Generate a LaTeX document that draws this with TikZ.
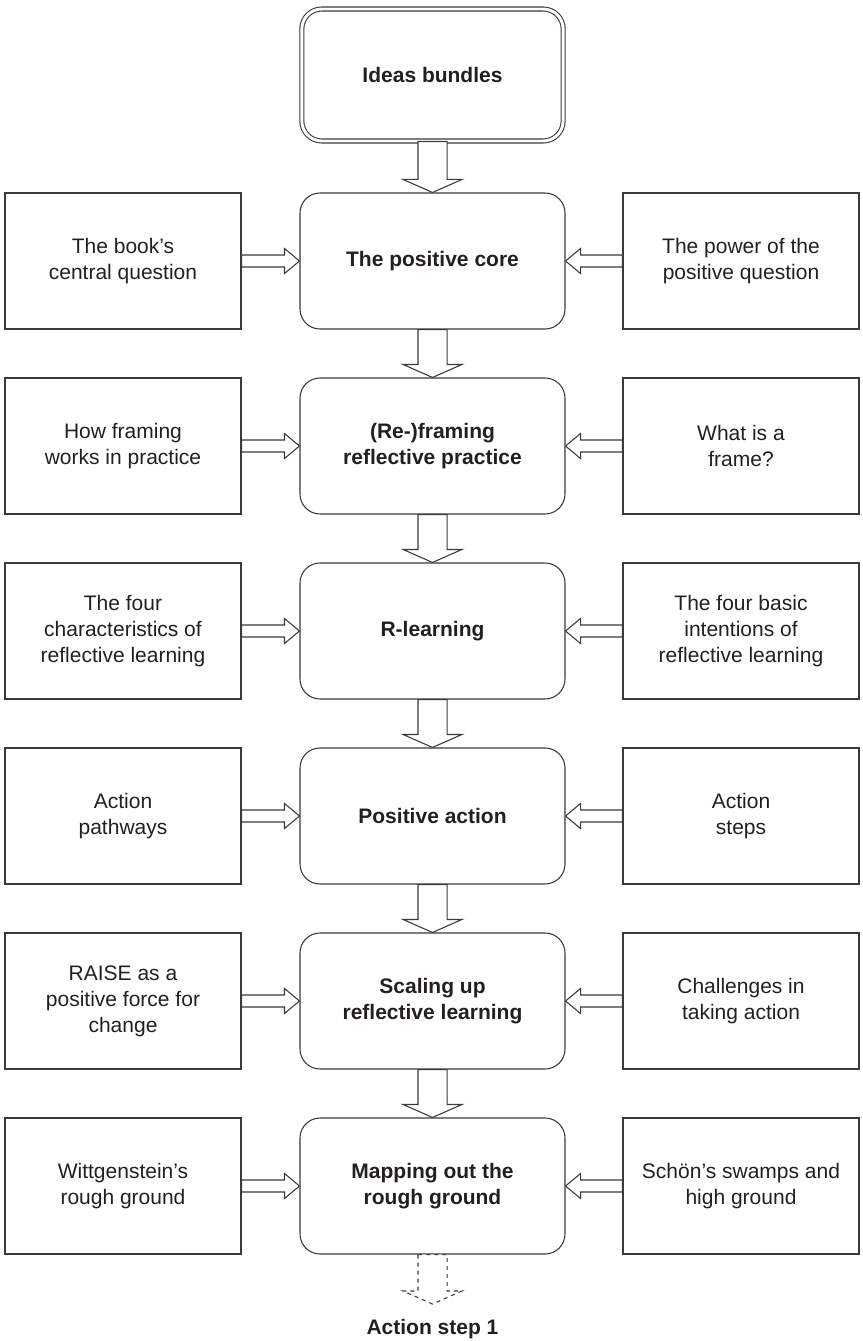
\documentclass[tikz,border=0pt]{standalone}
\usepackage{fontspec}
\setmainfont{Liberation Sans}
\usetikzlibrary{calc}
\definecolor{ink}{HTML}{231F20}
\definecolor{edge}{HTML}{3A3A3A}
\begin{document}
\begin{tikzpicture}[x=0.75pt,y=-0.75pt,
  every node/.style={font=\fontsize{15.75pt}{19.5pt}\selectfont, text=ink, align=center},
  mainbox/.style={draw=edge, line width=0.8pt, rounded corners=15pt,
    minimum width=198.75pt, minimum height=102pt, inner sep=2pt, font=\fontsize{15.75pt}{19.5pt}\selectfont\bfseries},
  topbox/.style={mainbox, double=white, double distance=2.2pt, minimum width=196pt, minimum height=99pt},
  sidebox/.style={draw=edge, line width=0.8pt, minimum width=177pt, minimum height=102pt, inner sep=2pt},
  blockarrow/.style={draw=edge, line width=0.8pt, fill=white, line join=miter},
  % wide downward arrow from the start point to the target point
  downbar/.style={blockarrow, to path={
    let \p1=(\tikztostart), \p2=(\tikztotarget) in
    (\x1-10.9pt,\y1) -- (\x1-10.9pt,\y2+9.75pt) -- (\x1-22.1pt,\y2+9.75pt) -- (\x1,\y2)
    -- (\x1+22.1pt,\y2+9.75pt) -- (\x1+10.9pt,\y2+9.75pt) -- (\x1+10.9pt,\y1) -- cycle}},
  % narrow arrow pointing right
  rightbar/.style={blockarrow, to path={
    let \p1=(\tikztostart), \p2=(\tikztotarget) in
    (\x1,\y1+4.5pt) -- (\x2-11.25pt,\y1+4.5pt) -- (\x2-11.25pt,\y1+9.4pt) -- (\x2,\y1)
    -- (\x2-11.25pt,\y1-9.4pt) -- (\x2-11.25pt,\y1-4.5pt) -- (\x1,\y1-4.5pt) -- cycle}},
  % narrow arrow pointing left
  leftbar/.style={blockarrow, to path={
    let \p1=(\tikztostart), \p2=(\tikztotarget) in
    (\x1,\y1+4.5pt) -- (\x2+11.25pt,\y1+4.5pt) -- (\x2+11.25pt,\y1+9.4pt) -- (\x2,\y1)
    -- (\x2+11.25pt,\y1-9.4pt) -- (\x2+11.25pt,\y1-4.5pt) -- (\x1,\y1-4.5pt) -- cycle}}
]
\useasboundingbox (0,0) rectangle (863,1341);

% central column
\node[topbox]  (ideas) at (432.5,75)   {Ideas bundles};
\node[mainbox] (m1)    at (432.5,261)  {The positive core};
\node[mainbox] (m2)    at (432.5,446)  {(Re-)framing\\reflective practice};
\node[mainbox] (m3)    at (432.5,631)  {R-learning};
\node[mainbox] (m4)    at (432.5,816)  {Positive action};
\node[mainbox] (m5)    at (432.5,1001) {Scaling up\\reflective learning};
\node[mainbox] (m6)    at (432.5,1186) {Mapping out the\\rough ground};

% left column
\node[sidebox] (l1) at (123,261)  {The book’s\\central question};
\node[sidebox] (l2) at (123,446)  {How framing\\works in practice};
\node[sidebox] (l3) at (123,631)  {The four\\characteristics of\\reflective learning};
\node[sidebox] (l4) at (123,816)  {Action\\pathways};
\node[sidebox] (l5) at (123,1001) {RAISE as a\\positive force for\\change};
\node[sidebox] (l6) at (123,1186) {Wittgenstein’s\\rough ground};

% right column
\node[sidebox] (r1) at (741,261)  {The power of the\\positive question};
\node[sidebox] (r2) at (741,446)  {What is a\\frame?};
\node[sidebox] (r3) at (741,631)  {The four basic\\intentions of\\reflective learning};
\node[sidebox] (r4) at (741,816)  {Action\\steps};
\node[sidebox] (r5) at (741,1001) {Challenges in\\taking action};
\node[sidebox] (r6) at (741,1186) {Schön’s swamps and\\high ground};

% next step
\coordinate (tip) at (432.5,1304);
\node[font=\fontsize{15.75pt}{19.5pt}\selectfont\bfseries] (next) at (432.5,1329) {Action step 1};

% vertical flow
\draw[downbar] (ideas.south) to (m1.north);
\draw[downbar] (m1.south) to (m2.north);
\draw[downbar] (m2.south) to (m3.north);
\draw[downbar] (m3.south) to (m4.north);
\draw[downbar] (m4.south) to (m5.north);
\draw[downbar] (m5.south) to (m6.north);
\draw[downbar, dashed, dash pattern=on 3pt off 3pt] (m6.south) to (tip);

% side inputs
\foreach \i in {1,...,6}{
  \draw[rightbar] (l\i.east) to (m\i.west);
  \draw[leftbar]  (r\i.west) to (m\i.east);
}
\end{tikzpicture}
\end{document}
